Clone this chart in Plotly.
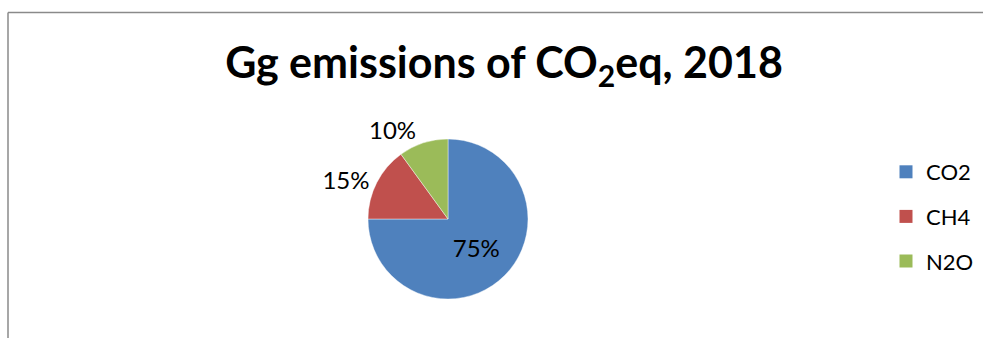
import plotly.graph_objects as go

# Share of 2018 emissions by gas (CO2-equivalent)
gases = ["CO2", "CH4", "N2O"]
shares = [75, 15, 10]
colors = ["#4F81BD", "#C0504D", "#9BBB59"]
label_positions = ["inside", "outside", "outside"]

W, H = 983, 338
FONT = "Lato, Calibri, Carlito, sans-serif"

fig = go.Figure()

fig.add_trace(go.Pie(
    labels=gases,
    values=shares,
    sort=False,
    direction="clockwise",
    rotation=0,
    marker=dict(colors=colors, line=dict(color="rgba(255,255,255,0.6)", width=0.7)),
    texttemplate="%{percent:.0%}",
    textposition=label_positions,
    textfont=dict(family=FONT, size=24, color="#000000"),
    insidetextorientation="horizontal",
    domain=dict(x=[(448 - 80) / W, (448 + 80) / W], y=[(119 - 80) / H, (119 + 80) / H]),
    showlegend=False,
    hoverinfo="label+percent",
))

# Legend entries as separate groups so they can be spaced apart
for g, c in zip(gases, colors):
    fig.add_trace(go.Scatter(
        x=[None], y=[None], mode="markers", name=g, legendgroup=g,
        marker=dict(symbol="square", size=13, color=c),
        showlegend=True,
    ))

fig.update_layout(
    width=W, height=H,
    margin=dict(l=0, r=0, t=0, b=0),
    paper_bgcolor="white", plot_bgcolor="white",
    title=dict(
        text="<b>Gg emissions of CO<sub>2</sub>eq, 2018</b>",
        font=dict(family=FONT, size=43, color="#000000"),
        x=504 / W, xanchor="center", y=1 - 63 / H, yanchor="middle",
    ),
    xaxis=dict(visible=False), yaxis=dict(visible=False),
    legend=dict(
        x=886 / W, xanchor="left", y=1 - 151 / H, yanchor="top",
        font=dict(family=FONT, size=22, color="#000000"),
        tracegroupgap=13, bgcolor="rgba(0,0,0,0)", itemclick=False,
    ),
    shapes=[
        dict(type="line", xref="paper", yref="paper", x0=8 / W, x1=1.0, y0=1 - 12.5 / H, y1=1 - 12.5 / H,
             line=dict(color="#8a8a8a", width=1.5)),
        dict(type="line", xref="paper", yref="paper", x0=8 / W, x1=8 / W, y0=0, y1=1 - 12.5 / H,
             line=dict(color="#8a8a8a", width=1.5)),
    ],
)

fig.write_html("out.html")
